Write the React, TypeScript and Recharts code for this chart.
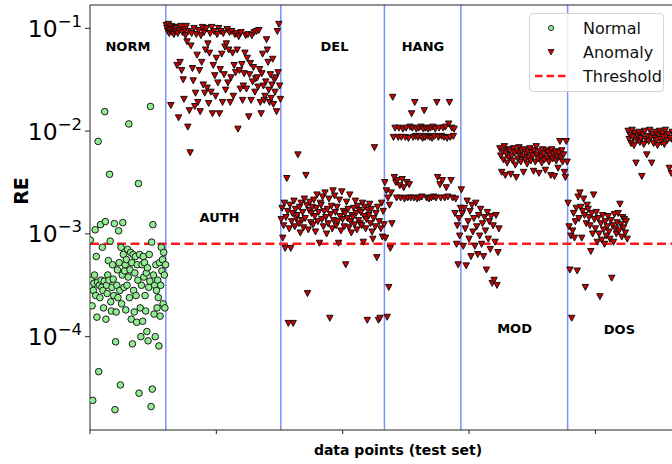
import React from "react";
import {
  ScatterChart,
  Scatter,
  XAxis,
  YAxis,
  ReferenceLine,
  ReferenceDot,
  Legend,
} from "recharts";

// RE values, stored as log10(RE), in index order
const normalLog = [
  -3.06, -3.5, -3.45, -3.7, -4.62, -3.55, -3.48, -3.4, -2.96, -3.6,
  -3.22, -3.81, -3.47, -2.1, -4.34, -3.5, -3.62, -2.91, -3.45, -3.52,
  -3.13, -3.55, -3.72, -3.46, -1.81, -2.88, -3.83, -3.5, -3.58, -3.4,
  -3.26, -3.45, -2.42, -3.07, -3.66, -3.75, -3.52, -3.3, -3.44, -3.6,
  -2.9, -4.71, -4.05, -3.76, -3.5, -3.35, -3.62, -2.97, -3.28, -3.55,
  -4.47, -3.13, -3.68, -3.4, -2.89, -3.2, -3.52, -3.36, -3.3, -3.74,
  -3.25, -3.5, -3.15, -3.42, -1.93, -3.62, -3.35, -3.18, -3.83, -3.28,
  -4.07, -3.2, -3.55, -3.76, -3.38, -3.22, -3.6, -3.86, -3.3, -3.45,
  -2.51, -4.55, -3.2, -3.72, -4.0, -3.5, -3.3, -3.85, -3.22, -3.42,
  -3.28, -3.6, -3.75, -3.38, -3.95, -3.33, -4.04, -3.52, -3.2, -3.46,
  -1.76, -4.68, -3.08, -4.51, -2.91, -3.4, -3.78, -3.5, -4.0, -3.3,
  -3.55, -3.72, -3.45, -3.62, -4.09, -3.28, -3.8, -3.5, -3.13, -3.36,
  -3.25, -3.68, -3.18, -3.4, -3.72, -3.3,
];

const authLog = [
  -0.97, -1.0, -1.03, -0.96, -1.05, -1.02, -1.75, -0.98, -1.04, -1.01, -1.06, -0.99, -1.03,
  -1.0, -1.36, -1.05, -1.87, -1.02, -1.33, -0.98, -1.41, -1.04, -1.5, -1.69, -1.01, -1.07,
  -0.98, -1.13, -1.96, -1.03, -1.8, -2.21, -1.17, -1.05, -1.39, -1.51, -1.0, -1.76, -1.63,
  -1.06, -1.26, -1.72, -1.02, -1.41, -1.81, -1.07, -1.33, -0.99, -1.55, -1.04, -1.63, -1.21,
  -1.0, -1.58, -1.15, -1.73, -1.24, -1.05, -1.62, -0.99, -1.83, -1.36, -1.03, -1.46, -1.66,
  -1.29, -1.06, -1.53, -1.0, -1.83, -1.4, -1.03, -1.25, -1.72, -1.05, -1.45, -1.18, -1.6,
  -1.15, -1.01, -1.53, -1.21, -1.04, -1.72, -1.48, -1.03, -1.24, -1.66, -1.36, -1.06, -1.43,
  -1.05, -1.21, -1.98, -1.08, -1.41, -1.59, -1.04, -1.35, -1.7, -1.56, -1.44, -1.24, -1.07,
  -1.59, -1.29, -1.06, -1.86, -1.45, -1.34, -1.7, -1.07, -1.52, -1.38, -1.04, -1.62, -1.49,
  -1.03, -1.48, -1.57, -1.02, -1.4, -1.72, -1.83, -1.44, -1.25, -1.56, -1.7, -1.66, -1.52,
  -1.11, -1.21, -1.33, -1.6, -1.72, -1.45, -1.68, -1.55, -1.3, -1.74, -1.5, -1.62, -1.48,
  -1.81, -1.03, -1.43, -0.96, -1.56, -1.69,
];

const delLog = [
  -2.86, -2.75, -3.04, -2.92, -2.7, -3.14, -2.84, -2.46, -2.78, -3.87,
  -2.95, -2.72, -3.14, -2.88, -2.8, -3.87, -2.68, -2.93, -2.76, -2.85,
  -2.82, -2.23, -2.9, -2.74, -2.99, -2.7, -2.87, -2.79, -2.94, -2.66,
  -2.85, -2.43, -2.72, -3.58, -2.96, -2.77, -2.69, -2.89, -2.8, -2.74,
  -2.91, -2.67, -2.83, -2.98, -2.75, -2.62, -2.88, -2.79, -3.09, -2.7,
  -2.72, -2.86, -2.64, -2.93, -2.78, -2.6, -2.84, -3.0, -2.76, -2.9,
  -2.66, -3.82, -2.81, -2.73, -2.95, -2.58, -2.87, -2.63, -2.79, -2.92,
  -2.74, -2.88, -3.09, -2.67, -2.83, -2.97, -2.59, -2.86, -2.78, -2.93,
  -2.8, -3.3, -2.69, -2.85, -2.76, -2.94, -2.62, -2.88, -2.99, -2.82,
  -2.84, -2.75, -2.91, -2.68, -2.8, -2.96, -2.73, -2.87, -2.77, -2.9,
  -2.79, -2.92, -2.7, -3.08, -2.83, -2.74, -2.95, -2.86, -3.84, -2.77,
  -2.82, -2.71, -2.9, -2.76, -2.98, -3.05, -2.85, -2.16, -2.93, -2.8,
  -3.23, -2.74, -3.84, -2.88, -3.82, -2.95, -2.7, -3.03, -2.78, -2.91,
];

const hangLog = [
  -2.5, -3.04, -2.58, -3.81, -2.65, -3.52, -2.72, -3.14, -2.6, -2.9,
  -1.67, -2.06, -2.45, -1.97, -2.5, -2.65, -2.48, -2.06,
  -1.97, -2.53, -2.65, -2.06, -2.47, -1.98, -2.55, -2.66,
  -2.06, -1.97, -2.5, -2.65, -2.07, -2.52, -1.96, -2.65,
  -1.83, -1.97, -2.06, -2.65, -1.72, -2.05, -1.98, -2.66,
  -2.06, -1.97, -2.65, -2.05, -1.96, -2.64, -2.07, -1.98,
  -1.8, -2.06, -1.97, -2.65, -2.05, -1.98, -2.66, -2.06,
  -1.97, -2.65, -2.07, -1.96, -2.64, -2.05, -1.98, -2.65,
  -1.72, -2.45, -2.06, -1.97, -2.52, -2.65, -2.05, -2.48,
  -1.97, -2.06, -2.65, -1.96, -2.55, -2.07, -2.64, -1.93,
  -1.72, -2.06, -2.48, -1.97, -2.65, -2.05, -1.98,
  -2.8, -2.66, -3.1, -2.92, -3.3, -2.85, -3.02, -2.75,
];

const modSpreadLog = [
  -2.57, -2.8, -3.12, -2.75, -2.95, -3.31, -2.68, -2.88, -3.05, -2.78,
  -3.22, -2.72, -2.98, -2.85, -3.12, -2.7, -2.93, -3.2, -2.82, -3.02,
  -2.76, -3.1, -2.9, -3.22, -2.84, -2.97, -3.35, -2.79, -3.05, -2.88,
  -3.15, -2.83, -3.48, -2.92, -3.45, -3.08, -2.82, -3.5, -3.18, -2.95,
];

const modBandLog = [
  -2.17, -2.24, -2.4, -2.2, -2.28, -2.15, -2.43, -2.22, -2.31, -2.18,
  -2.26, -2.19, -2.42, -2.24, -2.29, -2.17, -2.21, -2.33, -2.45, -2.2,
  -2.27, -2.16, -2.23, -2.3, -2.19, -2.25, -2.4, -2.18, -2.28, -2.22,
  -2.32, -2.2, -2.26, -2.17, -2.29, -2.21, -2.24, -2.39, -2.19, -2.3,
  -2.15, -2.23, -2.27, -2.41, -2.2, -2.25, -2.31, -2.18, -2.22, -2.28,
  -2.38, -2.19, -2.26, -2.21, -2.3, -2.24, -2.43, -2.18, -2.27, -2.22,
  -2.44, -2.2, -2.29, -2.25, -2.36, -2.21, -2.1, -2.26, -2.19, -2.3,
  -2.23, -2.4, -2.45, -2.1, -2.3,
];

const dosSpreadLog = [
  -2.7, -2.93, -3.35, -3.02, -3.82, -2.97, -2.8, -3.04, -2.88, -2.75, -3.36,
  -2.64, -2.85, -2.6, -2.74, -3.04, -2.78, -2.66, -2.82, -3.52, -2.9, -2.72,
  -2.76, -2.84, -2.92, -3.17, -2.8, -3.0, -2.62, -2.86, -2.95, -2.79, -3.08,
  -2.85, -3.0, -3.61, -2.9, -3.06, -2.82, -2.96, -3.1, -2.88, -3.02, -2.93,
  -2.83, -2.98, -3.05, -2.87, -3.43, -2.92, -3.08, -2.81, -2.95, -3.0, -2.89,
  -2.8, -2.97, -2.71, -2.91, -3.03, -2.84, -2.94, -2.86, -2.99, -2.88, -3.05,
];

const dosBandLog = [
  -2.0, -2.08, -2.04, -2.12, -1.99, -2.06, -2.14, -2.02, -2.31, -2.09,
  -2.05, -2.01, -2.11, -2.07, -2.44, -2.03, -2.13, -2.0, -2.08, -2.23,
  -2.05, -2.1, -1.99, -2.06, -2.31, -2.03, -2.12, -2.07, -2.01, -2.09,
  -2.14, -2.04, -2.0, -2.08, -2.11, -2.02, -2.06, -2.13, -1.99, -2.05,
  -2.09, -2.03, -2.36, -2.07, -2.41, -2.01, -2.1, -2.04, -2.12, -2.06,
  -2.0, -2.08, -2.03, -2.11, -2.05, -2.14, -2.02, -2.07, -2.09, -2.01,
  -2.06, -2.12, -2.04, -2.0, -2.08, -2.1, -2.03, -2.13, -2.05, -2.07,
  -2.02, -2.09, -2.11, -2.04, -2.06, -2.0, -2.08, -2.12, -2.03, -2.07,
];

// index ranges of each block in the test set
const boundaries = [120, 302, 466, 587, 756];
const modSplit = 648;
const dosSplit = 851;
const xMax = 975;
const xTicks = [0, 200, 400, 600, 800];

const yTicks = [1e-4, 1e-3, 1e-2, 1e-1];
const yDomain = [1.236e-5, 0.1687];
const threshold = 8e-4;

const attackNames = ["NORM", "AUTH", "DEL", "HANG", "MOD", "DOS"];
const attackLabelX = [60, 205, 387, 527, 672, 838];
const attackLabelLog = [-1.18, -2.84, -1.18, -1.18, -3.92, -3.93];

const FONT = "'DejaVu Sans', sans-serif";

const toPoints = (logs: number[], from: number, to: number) =>
  logs.map((v, i) => ({
    x: from + ((i + 0.5) * (to - from)) / logs.length,
    y: Math.pow(10, v),
  }));

const normalData = toPoints(normalLog, 0, boundaries[0]);
const anomalyData = [
  ...toPoints(authLog, boundaries[0], boundaries[1]),
  ...toPoints(delLog, boundaries[1], boundaries[2]),
  ...toPoints(hangLog, boundaries[2], boundaries[3]),
  ...toPoints(modSpreadLog, boundaries[3], modSplit),
  ...toPoints(modBandLog, modSplit, boundaries[4]),
  ...toPoints(dosSpreadLog, boundaries[4], dosSplit),
  ...toPoints(dosBandLog, dosSplit, xMax),
];

const GreenDot = (props: any) => (
  <circle cx={props.cx} cy={props.cy} r={3.3} fill="#90ee90" stroke="#1a1a1a" strokeWidth={1} />
);

const RedTri = (props: any) => {
  const { cx, cy } = props;
  return (
    <path
      d={`M${cx - 3.2},${cy - 2.9} L${cx + 3.2},${cy - 2.9} L${cx},${cy + 3.1} Z`}
      fill="#d00000"
      stroke="#111"
      strokeWidth={1}
    />
  );
};

const PowTick = (props: any) => {
  const { x, y, payload } = props;
  const exp = Math.round(Math.log10(payload.value));
  return (
    <text x={x} y={y + 8.5} textAnchor="end" fontSize={23.5} fontFamily={FONT} fill="#000">
      10
      <tspan dy={-10} fontSize={16.5}>
        {"\u2212" + Math.abs(exp)}
      </tspan>
    </text>
  );
};

const LegendBox = () => (
  <div
    style={{
      position: "relative",
      width: 135,
      height: 79,
      boxSizing: "border-box",
      border: "1px solid #d4d4d4",
      borderRadius: 4,
      background: "rgba(255,255,255,0.85)",
      fontFamily: FONT,
      fontSize: 16,
      color: "#111",
    }}
  >
    <svg width={135} height={79} style={{ position: "absolute", left: -1, top: -1 }}>
      <circle cx={22} cy={15} r={2.6} fill="#90ee90" stroke="#1a1a1a" strokeWidth={0.9} />
      <path d="M19,36.5 L25,36.5 L22,42 Z" fill="#d00000" stroke="#111" strokeWidth={0.8} />
      <line x1={6} x2={38} y1={63} y2={63} stroke="#ff1a1a" strokeWidth={2.5} strokeDasharray="7.5 4" />
      <text x={54} y={21} fontSize={16} fontFamily={FONT} fill="#111">Normal</text>
      <text x={54} y={45} fontSize={16} fontFamily={FONT} fill="#111">Anomaly</text>
      <text x={54} y={69} fontSize={16} fontFamily={FONT} fill="#111">Threshold</text>
    </svg>
  </div>
);

const App = () => {
  return (
    <div
      style={{
        position: "fixed",
        left: 0,
        top: 0,
        width: 672,
        height: 464,
        overflow: "hidden",
        background: "#fff",
      }}
    >
      <ScatterChart width={720} height={464} margin={{ top: 5, right: 14, bottom: 0, left: 0 }}>
        <XAxis
          type="number"
          dataKey="x"
          domain={[0, xMax]}
          ticks={xTicks}
          tickFormatter={() => ""}
          tickSize={4}
          height={34}
          stroke="#222"
          allowDataOverflow
          label={{
            value: "data points (test set)",
            position: "insideBottom",
            offset: 9,
            style: { fontFamily: FONT, fontSize: 14, fontWeight: "bold", fill: "#000" },
          }}
        />
        <YAxis
          type="number"
          dataKey="y"
          scale="log"
          domain={yDomain}
          ticks={yTicks}
          allowDataOverflow
          width={90}
          tickSize={5}
          tickMargin={3}
          stroke="#222"
          tick={<PowTick />}
          label={{
            content: () => (
              <text
                x={21}
                y={191}
                transform="rotate(-90 21 191)"
                textAnchor="middle"
                dominantBaseline="central"
                fontFamily={FONT}
                fontSize={19}
                fontWeight="bold"
                fill="#000"
              >
                RE
              </text>
            ),
          }}
        />
        <Legend
          layout="vertical"
          verticalAlign="middle"
          align="center"
          content={<LegendBox />}
          wrapperStyle={{ top: 13, left: 529, width: 135, height: 79 }}
        />
        <Scatter
          name="Normal"
          data={normalData}
          shape={GreenDot}
          isAnimationActive={false}
        />
        <Scatter
          name="Anomaly"
          data={anomalyData}
          shape={RedTri}
          isAnimationActive={false}
        />
        {boundaries.map((b) => (
          <ReferenceLine key={b} x={b} stroke="#7a90ff" strokeWidth={1.5} />
        ))}
        <ReferenceLine y={threshold} stroke="#ff1a1a" strokeWidth={2.5} strokeDasharray="9 4.5" />
        <ReferenceLine y={yDomain[1]} stroke="#222" strokeWidth={1.2} />
        {attackNames.map((name, i) => (
          <ReferenceDot
            key={name}
            x={attackLabelX[i]}
            y={Math.pow(10, attackLabelLog[i])}
            r={0}
            fill="none"
            stroke="none"
            label={{
              value: name,
              position: "center",
              style: { fontFamily: FONT, fontSize: 13, fontWeight: "bold", fill: "#000" },
            }}
          />
        ))}
      </ScatterChart>
    </div>
  );
};

export default App;
